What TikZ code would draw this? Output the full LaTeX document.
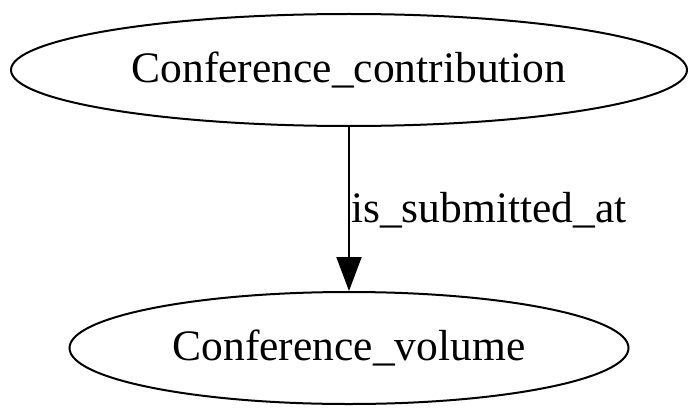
\documentclass[tikz,border=0pt]{standalone}
\usepackage{fontspec}
\setmainfont{Liberation Serif}
\usetikzlibrary{shapes.geometric,arrows.meta}
\begin{document}
\begin{tikzpicture}[x=1pt,y=-1pt,
  ell/.style={ellipse,draw=black,line width=2pt,inner sep=0pt,font=\fontsize{43.5}{52}\selectfont},
  edgelabel/.style={font=\fontsize{43.5}{52}\selectfont,inner sep=0pt}]
\useasboundingbox (0,0) rectangle (700,417);
\node[ell,minimum width=676pt,minimum height=112pt] (a) at (349,70) {Conference\_contribution};
\node[ell,minimum width=559pt,minimum height=112pt] (b) at (349,348) {Conference\_volume};
\draw[line width=2pt,-{Triangle[length=34pt,width=25pt]}] (a.south) -- (b.north);
\node[edgelabel,anchor=base west] (l) at (351,222) {is\_submitted\_at};
\end{tikzpicture}
\end{document}
